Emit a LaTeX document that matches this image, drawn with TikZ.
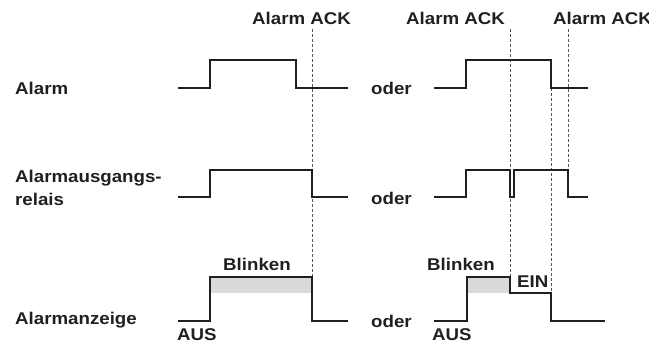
\documentclass[tikz,border=0pt]{standalone}
\usepackage{fontspec}
\setmainfont[FakeStretch=1.1]{Liberation Sans}
\definecolor{ink}{HTML}{231F20}
\definecolor{fillgray}{HTML}{DADADA}
\definecolor{dashgray}{HTML}{555555}
\begin{document}
\begin{tikzpicture}[x=1pt,y=-1pt,
  lbl/.style={anchor=base west,inner sep=0pt,text=ink,font=\fontsize{17}{23}\selectfont\bfseries},
  wave/.style={draw=ink,line width=1.8pt,line join=miter},
  ack/.style={draw=dashgray,line width=0.8pt,dash pattern=on 3pt off 2pt},
  blink/.style={fill=fillgray,draw=none}]
\useasboundingbox (0,0) rectangle (649,343);
% gray blink areas
\fill[blink] (210,277) rectangle (312,293);
\fill[blink] (467,277) rectangle (510,293);
% dashed ACK lines
\draw[ack] (312,29) -- (312,277);
\draw[ack] (510,29) -- (510,277);
\draw[ack] (551,88) -- (551,293);
\draw[ack] (568,29) -- (568,170);
% waveforms
\draw[wave] (178,88) -- (210,88) -- (210,60) -- (296,60) -- (296,88) -- (348,88);
\draw[wave] (434,88) -- (466,88) -- (466,60) -- (551,60) -- (551,88) -- (588,88);
\draw[wave] (178,197) -- (210,197) -- (210,170) -- (312,170) -- (312,197) -- (348,197);
\draw[wave] (434,197) -- (466,197) -- (466,170) -- (510,170) -- (510,197) -- (514,197) -- (514,170) -- (568,170) -- (568,197) -- (588,197);
\draw[wave] (178,321) -- (210,321) -- (210,277) -- (312,277) -- (312,321) -- (348,321);
\draw[wave] (434,321) -- (467,321) -- (467,277) -- (510,277) -- (510,293) -- (551,293) -- (551,321) -- (605,321);
% labels
\node[lbl] (ack1) at (252,24) {Alarm ACK};
\node[lbl] (ack2) at (406,24) {Alarm ACK};
\node[lbl] (ack3) at (553,24) {Alarm ACK};
\node[lbl] (alarm) at (15,94) {Alarm};
\node[lbl,anchor=north west,align=left] (relais) at (15,169.5) {Alarmausgangs-\\relais};
\node[lbl] (anzeige) at (15,324) {Alarmanzeige};
\node[lbl] (oder1) at (371,94) {oder};
\node[lbl] (oder2) at (371,204) {oder};
\node[lbl] (oder3) at (371,327) {oder};
\node[lbl] (blink1) at (223,270) {Blinken};
\node[lbl] (blink2) at (427,270) {Blinken};
\node[lbl] (ein) at (517,287) {EIN};
\node[lbl] (aus1) at (177,340) {AUS};
\node[lbl] (aus2) at (432,340) {AUS};
\end{tikzpicture}
\end{document}
